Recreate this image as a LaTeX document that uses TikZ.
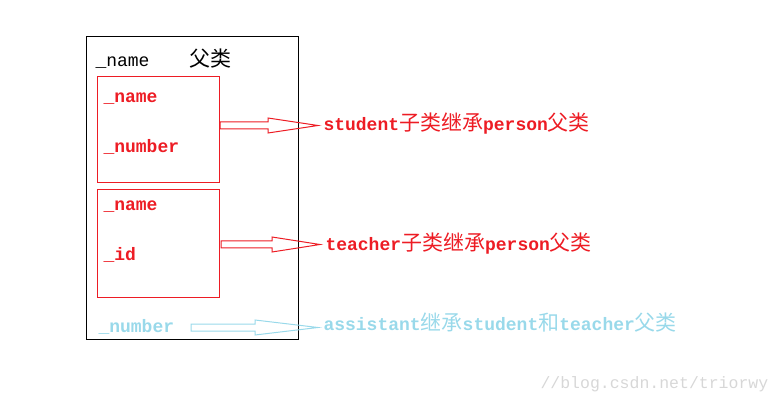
\documentclass[tikz,border=0pt]{standalone}
\usepackage{fontspec}
\setmonofont{Liberation Mono}
\newfontfamily\cjk{Noto Sans CJK SC}
\usetikzlibrary{calc}
\definecolor{paintred}{RGB}{237,28,36}
\definecolor{paintcyan}{RGB}{153,217,234}
\definecolor{markgray}{RGB}{215,215,215}
\newcommand\zh[1]{{\cjk\mdseries\fontsize{21}{21}\selectfont #1}}
% block arrow: [colour]{start}{label node}{head length}
\newcommand\blockarrow[4][]{%
  \draw[#1] let \p1=(#2), \p2=(#3.west) in
    (\x1,\y1+3.5pt) -- (\x2-5pt-#4,\y1+3.5pt) -- (\x2-5pt-#4,\y1+7.5pt) -- (\x2-5pt,\y1)
    -- (\x2-5pt-#4,\y1-7.5pt) -- (\x2-5pt-#4,\y1-3.5pt) -- (\x1,\y1-3.5pt) -- cycle;}
\begin{document}
\begin{tikzpicture}[x=1pt, y=-1pt, line width=1pt,
    every node/.style={inner sep=0pt, anchor=base west, font=\ttfamily\fontsize{18}{18}\selectfont},
    fld/.style={font=\ttfamily\bfseries\fontsize{18}{18}\selectfont},
    box/.style={draw=paintred, anchor=north west, minimum width=122pt},
    lbl/.style={font=\ttfamily\bfseries\fontsize{18}{18}\selectfont}]
			\useasboundingbox (0,0) rectangle (780,401);
			\node[draw, anchor=north west, minimum width=212pt, minimum height=303pt] (person) at (86,36) {};
			\node (pname) at (95,66.5) {\_name};
			\node (pcls) at (189,66.5) {\zh{父类}};

			\node[box, minimum height=106pt] (stu) at (97,76) {};
			\node[fld, paintred] (sname) at (103,102.5) {\_name};
			\node[fld, paintred] (snum) at (103,153) {\_number};

			\node[box, minimum height=108pt] (tea) at (97,189) {};
			\node[fld, paintred] (tname) at (103,210.5) {\_name};
			\node[fld, paintred] (tid) at (103,261) {\_id};

			\node[fld, paintcyan] (anum) at (98,332) {\_number};

			\node[lbl, paintred] (stulbl) at (323,130.5) {student\zh{子类继承}person\zh{父类}};
			\node[lbl, paintred] (tealbl) at (325,251) {teacher\zh{子类继承}person\zh{父类}};
			\node[lbl, paintcyan] (asslbl) at (323,330) {assistant\zh{继承}student\zh{和}teacher\zh{父类}};

			\coordinate (s1) at (220,125.5);
			\coordinate (s2) at (221,244.5);
			\coordinate (s3) at (191,327.5);
			\blockarrow[paintred]{s1}{stulbl}{50pt}
			\blockarrow[paintred]{s2}{tealbl}{48pt}
			\blockarrow[paintcyan]{s3}{asslbl}{63pt}

			\node[font=\ttfamily\fontsize{16.5}{16.5}\selectfont, markgray] (mark) at (540,388) {//blog.csdn.net/triorwy};
		\end{tikzpicture}
\end{document}
